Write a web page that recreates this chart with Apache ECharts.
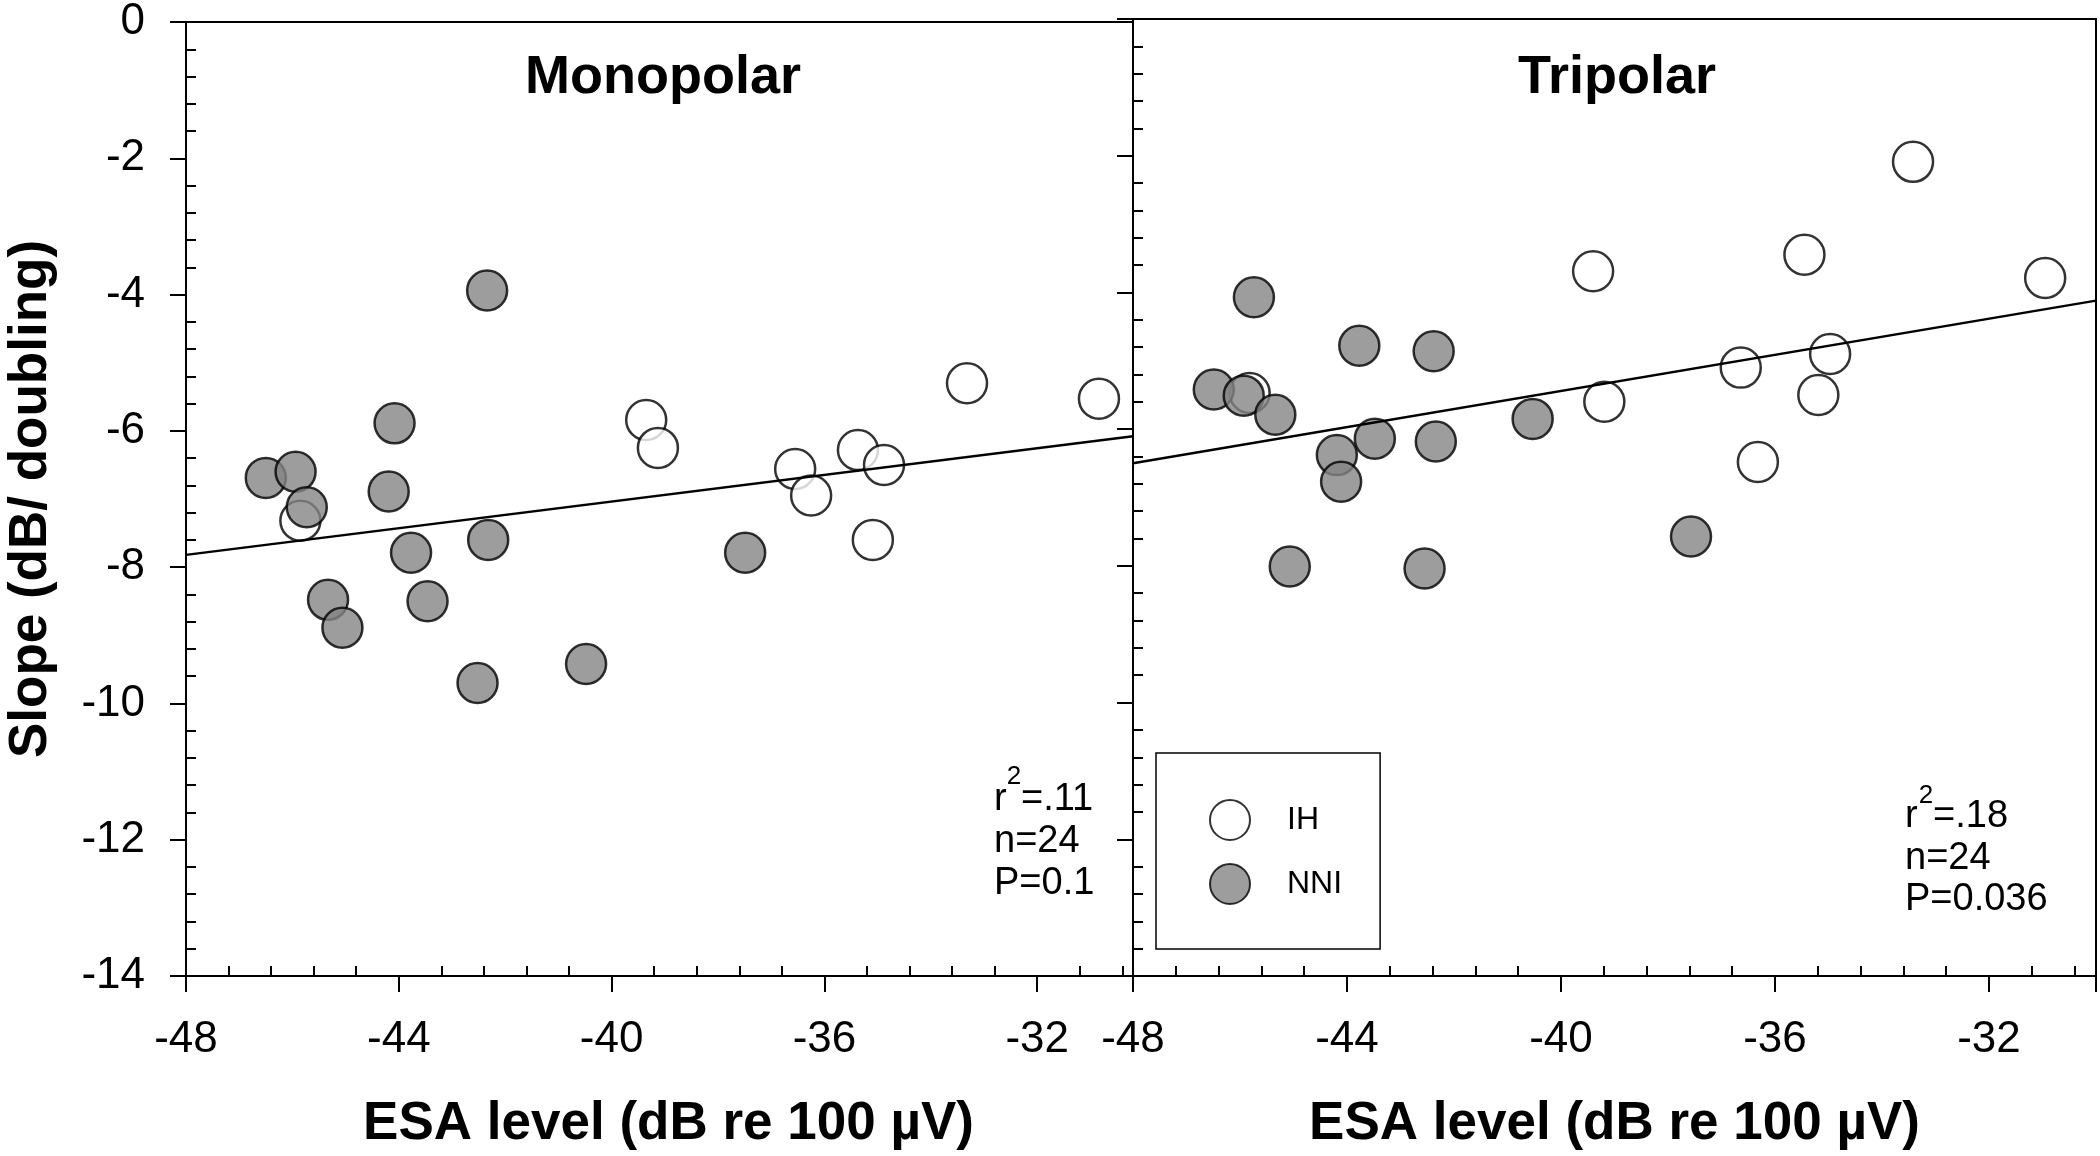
<!DOCTYPE html>
<html><head><meta charset="utf-8">
<script src="https://cdn.jsdelivr.net/npm/echarts@6/dist/echarts.min.js"></script>
<style>html,body{margin:0;padding:0;background:#fff}#c{width:2100px;height:1156px}</style>
</head><body><div id="c"></div>
<script>
const FONT = "'Liberation Sans', Arial, Helvetica, sans-serif";

// ---- data ----
const panelTitles = ['Monopolar', 'Tripolar'];
const xTickLabels = [-48, -44, -40, -36, -32];
const yTickLabels = [0, -2, -4, -6, -8, -10, -12, -14];
const xName = 'ESA level (dB re 100 µV)';
const yName = 'Slope (dB/ doubling)';
const groupNames = ['IH', 'NNI'];

const monoIH = [
  [-45.85, -7.32], [-39.35, -5.84], [-39.13, -6.25], [-33.32, -5.30], [-30.84, -5.53],
  [-35.37, -6.28], [-34.88, -6.50], [-36.55, -6.56], [-36.25, -6.95], [-35.09, -7.60]
];
const monoNNI = [
  [-42.34, -3.94], [-44.08, -5.89], [-46.50, -6.69], [-45.94, -6.60], [-45.73, -7.12],
  [-44.19, -6.89], [-43.77, -7.79], [-42.32, -7.60], [-45.33, -8.48], [-45.06, -8.89],
  [-43.46, -8.50], [-42.52, -9.70], [-40.48, -9.42], [-37.49, -7.79]
];
const triIH = [
  [-45.82, -5.47], [-39.40, -3.69], [-39.19, -5.60], [-36.64, -5.10], [-34.97, -4.90],
  [-35.19, -5.50], [-36.32, -6.48], [-35.45, -3.45], [-33.42, -2.09], [-30.95, -3.79]
];
const triNNI = [
  [-45.74, -4.07], [-43.77, -4.78], [-46.49, -5.42], [-45.93, -5.51], [-45.34, -5.79],
  [-43.48, -6.14], [-44.19, -6.38], [-44.11, -6.77], [-45.07, -8.01], [-42.38, -4.86],
  [-42.34, -6.18], [-40.53, -5.85], [-42.55, -8.04], [-37.57, -7.57]
];
const monoFit = [[-48, -7.82], [-30.2, -6.08]];
const triFit = [[-48, -6.50], [-30, -4.12]];
const monoStats = ['r', '2', '=.11', 'n=24', 'P=0.1'];
const triStats = ['r', '2', '=.18', 'n=24', 'P=0.036'];

// ---- axis ranges ----
const X_MIN = -48, Y_MIN = -14, Y_MAX = 0;
const xMaxs = [-30.2, -30];

function minorValues(start, step, end, every) {
  const out = [];
  for (let k = 1; ; k++) {
    const v = Math.round((start + step * k) * 100) / 100;
    if ((step > 0 && v >= end) || (step < 0 && v <= end)) break;
    if (k % every !== 0) out.push(v);
  }
  return out;
}

const axisLineStyle = { color: '#000', width: 2 };
const grids = [
  { left: 183, top: 19, width: 950, height: 957, show: true, borderColor: '#000', borderWidth: 2 },
  { left: 1133, top: 19, width: 963, height: 957, show: true, borderColor: '#000', borderWidth: 2 }
];

const xAxis = [], yAxis = [];
[0, 1].forEach(g => {
  const xMax = xMaxs[g];
  xAxis.push({
    gridIndex: g, type: 'value', min: X_MIN, max: xMax, interval: 4, position: 'bottom',
    axisLine: { onZero: false, lineStyle: axisLineStyle },
    axisTick: { inside: false, length: 16, lineStyle: { color: '#000', width: 2 } },
    axisLabel: {
      margin: 42, fontSize: 44, color: '#000', fontFamily: FONT,
      formatter: v => (xTickLabels.indexOf(Math.round(v * 100) / 100) >= 0 ? String(v) : '')
    },
    splitLine: { show: false },
    name: xName, nameLocation: 'middle', nameGap: 122,
    nameTextStyle: { fontSize: 53, fontWeight: 'bold', color: '#000', fontFamily: FONT,
      padding: g === 0 ? [0, 0, 0, 18] : [0, 0, 0, 0] }
  });
  xAxis.push({
    gridIndex: g, type: 'value', min: X_MIN, max: xMax, interval: 0.8, position: 'bottom',
    axisLine: { show: false, onZero: false },
    axisTick: { show: true, inside: true, length: 10, lineStyle: { color: '#000', width: 2 },
      customValues: minorValues(X_MIN, 0.8, xMax, 5) },
    axisLabel: { show: false },
    splitLine: { show: false }
  });
  yAxis.push({
    gridIndex: g, type: 'value', min: Y_MIN, max: Y_MAX, interval: 2, position: 'left',
    axisLine: { onZero: false, lineStyle: axisLineStyle },
    axisTick: { inside: false, length: 16, lineStyle: { color: '#000', width: 2 } },
    axisLabel: {
      show: g === 0, margin: 41, fontSize: 44, color: '#000', fontFamily: FONT,
      formatter: v => (yTickLabels.indexOf(v) >= 0 ? String(v) : '')
    },
    splitLine: { show: false },
    name: g === 0 ? yName : '', nameLocation: 'middle', nameGap: 125,
    nameTextStyle: { fontSize: 53, fontWeight: 'bold', color: '#000', fontFamily: FONT, lineHeight: 60 }
  });
  yAxis.push({
    gridIndex: g, type: 'value', min: Y_MIN, max: Y_MAX, interval: 0.4, position: 'left',
    axisLine: { show: false, onZero: false },
    axisTick: { show: true, inside: true, length: 10, lineStyle: { color: '#000', width: 2 },
      customValues: minorValues(Y_MAX, -0.4, Y_MIN, 5) },
    axisLabel: { show: false },
    splitLine: { show: false }
  });
});

const ihStyle = { color: '#ffffff', borderColor: '#000', borderWidth: 2.5 };
const nniStyle = { color: '#858585', borderColor: '#000', borderWidth: 2.5 };
function scatter(name, data, g, style, z) {
  return { type: 'scatter', name, data, xAxisIndex: g * 2, yAxisIndex: g * 2,
    symbol: 'circle', symbolSize: 40, itemStyle: style, z, silent: true };
}
function fitLine(data, g) {
  return { type: 'line', data, xAxisIndex: g * 2, yAxisIndex: g * 2, symbol: 'none',
    lineStyle: { color: '#000', width: 2.5 }, z: 5, silent: true };
}

function statsText(lines, x, y0, supX, supY, eqX, lineGap) {
  const f = `38px ${FONT}`;
  return [
    { type: 'text', x: x, y: y0, style: { text: lines[0], font: f, fill: '#000', align: 'left', verticalAlign: 'middle' } },
    { type: 'text', x: supX, y: supY, style: { text: lines[1], font: `26px ${FONT}`, fill: '#000', align: 'center', verticalAlign: 'middle' } },
    { type: 'text', x: eqX, y: y0, style: { text: lines[2], font: f, fill: '#000', align: 'left', verticalAlign: 'middle' } },
    { type: 'text', x: x, y: y0 + lineGap, style: { text: lines[3], font: f, fill: '#000', align: 'left', verticalAlign: 'middle' } },
    { type: 'text', x: x, y: y0 + 2 * lineGap, style: { text: lines[4], font: f, fill: '#000', align: 'left', verticalAlign: 'middle' } }
  ];
}

const option = {
  animation: false,
  backgroundColor: '#fff',
  grid: grids,
  xAxis, yAxis,
  legend: {
    data: groupNames, orient: 'vertical', left: 1156, top: 753,
    itemWidth: 40, itemHeight: 40, itemGap: 22,
    padding: [46, 38, 44, 53], borderColor: '#000', borderWidth: 1.5,
    textStyle: { fontSize: 32, color: '#000', fontFamily: FONT, padding: [0, 0, 0, 32] },
    selectedMode: false
  },
  graphic: [
    { type: 'text', x: 663, y: 78, style: { text: panelTitles[0], font: `bold 54px ${FONT}`, fill: '#000', align: 'center', verticalAlign: 'middle' } },
    { type: 'text', x: 1617, y: 78, style: { text: panelTitles[1], font: `bold 54px ${FONT}`, fill: '#000', align: 'center', verticalAlign: 'middle' } },
    ...statsText(monoStats, 994, 800, 1014, 777, 1021, 41.7),
    ...statsText(triStats, 1905, 817, 1926, 796, 1933, 41.5)
  ],
  series: [
    scatter(groupNames[0], monoIH, 0, ihStyle, 2),
    scatter(groupNames[1], monoNNI, 0, nniStyle, 3),
    scatter(groupNames[0], triIH, 1, ihStyle, 2),
    scatter(groupNames[1], triNNI, 1, nniStyle, 3),
    fitLine(monoFit, 0),
    fitLine(triFit, 1)
  ]
};

const chart = echarts.init(document.getElementById('c'), null, { renderer: 'canvas' });
chart.setOption(option);
</script>
</body></html>
